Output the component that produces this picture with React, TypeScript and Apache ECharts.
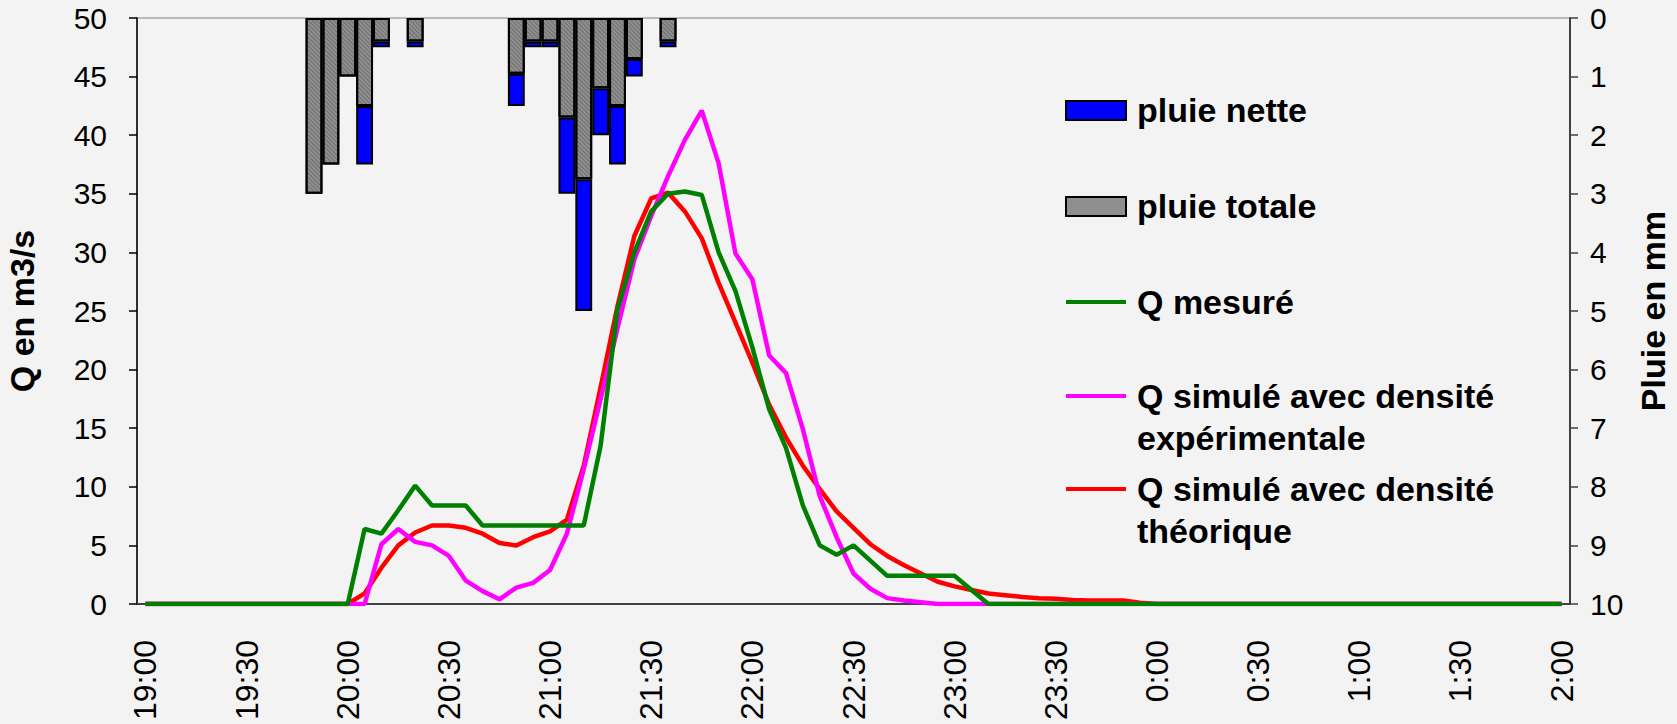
import { useEffect, useRef } from 'react';
import * as echarts from 'echarts';

// 5-minute time steps from 19:00 to 2:00 (next day)
const timeSteps: string[] = [];
for (let m = 19 * 60; m <= 26 * 60; m += 5) {
  const h = Math.floor(m / 60) % 24;
  const mm = m % 60;
  timeSteps.push(`${h}:${mm.toString().padStart(2, '0')}`);
}

// Measured discharge (m3/s), one value per 5 minutes
const qMesure = [
  0, 0, 0, 0, 0, 0, 0, 0, 0, 0, 0, 0, 0,
  6.4, 6.0, 8.0, 10.1, 8.4, 8.4, 8.4, 6.7, 6.7, 6.7, 6.7, 6.7, 6.7, 6.7,
  13.5, 25.1, 30.0, 33.5, 35.0, 35.2, 34.9, 30.0, 26.7, 21.9, 16.6, 13.3,
  8.4, 5.0, 4.2, 5.0, 3.7, 2.4, 2.4, 2.4, 2.4, 2.4, 1.2,
  0, 0, 0, 0, 0, 0, 0, 0, 0, 0, 0, 0, 0, 0, 0, 0, 0, 0, 0, 0,
  0, 0, 0, 0, 0, 0, 0, 0, 0, 0, 0, 0, 0, 0, 0,
];

// Simulated discharge, experimental density
const qSimExp = [
  0, 0, 0, 0, 0, 0, 0, 0, 0, 0, 0, 0, 0, 0,
  5.1, 6.4, 5.3, 5.0, 4.1, 2.0, 1.1, 0.4, 1.4, 1.8, 2.9, 6.0,
  11.5, 17.5, 23.5, 29.4, 33.1, 36.5, 39.6, 42.1, 37.6, 29.9, 27.7, 21.2,
  19.7, 14.9, 9.2, 5.7, 2.6, 1.3, 0.5, 0.3, 0.15,
  0, 0, 0, 0, 0, 0, 0, 0, 0, 0, 0, 0, 0, 0, 0, 0, 0, 0, 0,
  0, 0, 0, 0, 0, 0, 0, 0, 0, 0, 0, 0, 0, 0, 0, 0, 0, 0, 0,
];

// Simulated discharge, theoretical density
const qSimTheo = [
  0, 0, 0, 0, 0, 0, 0, 0, 0, 0, 0, 0, 0,
  0.9, 3.1, 5.0, 6.1, 6.7, 6.7, 6.5, 6.0, 5.2, 5.0, 5.7, 6.2, 7.2,
  11.8, 18.5, 25.4, 31.4, 34.6, 35.1, 33.5, 31.2, 27.4, 24.0, 20.6, 17.0,
  14.2, 11.8, 9.8, 7.9, 6.5, 5.1, 4.1, 3.3, 2.6, 1.9, 1.5, 1.2,
  0.9, 0.75, 0.6, 0.5, 0.45, 0.35, 0.3, 0.3, 0.3, 0.1,
  0, 0, 0, 0, 0, 0, 0, 0, 0, 0, 0, 0, 0, 0, 0, 0, 0, 0, 0, 0, 0, 0, 0, 0, 0,
];

// Rainfall (mm) per 5-minute step
const pluieHeures = [
  '19:50', '19:55', '20:00', '20:05', '20:10', '20:20', '20:50', '20:55',
  '21:00', '21:05', '21:10', '21:15', '21:20', '21:25', '21:35',
];
const pluieTotale = [3.0, 2.5, 1.0, 1.5, 0.4, 0.4, 0.95, 0.4, 0.4, 1.7, 2.75, 1.2, 1.5, 0.7, 0.4];
const pluieNette = [0, 0, 0, 1.0, 0.1, 0.1, 0.55, 0.1, 0.1, 1.3, 2.25, 0.8, 1.0, 0.3, 0.1];

const FONT = 'Arial, "Liberation Sans", Helvetica, sans-serif';
const GRAY = '#8f8f8f';

function alignRain(times: string[], values: number[]) {
  return timeSteps.map((t) => {
    const k = times.indexOf(t);
    if (k < 0) return null;
    return values[k] > 0 ? values[k] : null;
  });
}

// fine diagonal hatching used for the total-rain bars
const hatch = {
  symbol: 'rect',
  symbolSize: 1,
  color: 'rgba(70,70,70,0.45)',
  dashArrayX: [1, 0],
  dashArrayY: [1, 2],
  rotation: Math.PI / 4,
};

export default function App() {
  const ref = useRef<HTMLDivElement>(null);

  useEffect(() => {
    if (!ref.current) return;
    const chart = echarts.init(ref.current, null, { renderer: 'svg' });

    const axisText = { fontSize: 30, color: '#000', fontFamily: FONT };
    const nameText = { fontSize: 34, fontWeight: 'bold', color: '#000', fontFamily: FONT };

    const legendFont = { fontSize: 34, fontWeight: 'bold', fontFamily: FONT, fill: '#000' };
    const iconX = 1066;
    const iconW = 60;
    const textX = 1137;

    chart.setOption({
      animation: false,
      backgroundColor: '#f3f3f3',
      grid: {
        left: 137,
        right: 107,
        top: 18,
        bottom: 120,
        outerBoundsMode: 'none',
        containLabel: false,
        show: true,
        borderColor: '#808080',
        borderWidth: 1,
        backgroundColor: 'transparent',
      },
      xAxis: {
        type: 'category',
        data: timeSteps,
        boundaryGap: true,
        axisLine: { lineStyle: { color: '#404040', width: 2 } },
        axisTick: { interval: 5, length: 8, lineStyle: { color: '#404040', width: 2 } },
        axisLabel: { interval: 5, rotate: 90, margin: 36, ...axisText, fontSize: 32 },
        splitLine: { show: false },
      },
      yAxis: [
        {
          type: 'value',
          min: 0,
          max: 50,
          interval: 5,
          name: 'Q en m3/s',
          nameLocation: 'middle',
          nameGap: 98,
          nameRotate: 90,
          nameTextStyle: nameText,
          axisLine: { show: true, lineStyle: { color: '#000', width: 1.5 } },
          axisTick: { show: true, length: 8, lineStyle: { color: '#000', width: 1.5 } },
          axisLabel: { margin: 30, ...axisText },
          splitLine: { show: false },
        },
        {
          type: 'value',
          min: 0,
          max: 10,
          interval: 1,
          inverse: true,
          position: 'right',
          name: 'Pluie en mm',
          nameLocation: 'middle',
          nameGap: 66,
          nameRotate: 90,
          nameTextStyle: nameText,
          axisLine: { show: true, lineStyle: { color: '#404040', width: 2 } },
          axisTick: { show: true, length: 8, lineStyle: { color: '#404040', width: 1.5 } },
          axisLabel: { margin: 20, ...axisText },
          splitLine: { show: false },
        },
      ],
      series: [
        {
          name: 'pluie totale',
          type: 'bar',
          yAxisIndex: 1,
          stack: 'pluie',
          barCategoryGap: 0,
          data: alignRain(pluieHeures, pluieTotale),
          itemStyle: { color: GRAY, borderColor: '#000', borderWidth: 2, decal: hatch },
        },
        {
          name: 'pluie nette',
          type: 'bar',
          yAxisIndex: 1,
          stack: 'pluie',
          barCategoryGap: 0,
          data: alignRain(pluieHeures, pluieNette),
          itemStyle: { color: '#0000ff', borderColor: '#000', borderWidth: 2 },
        },
        {
          name: 'Q simulé avec densité théorique',
          type: 'line',
          data: qSimTheo,
          showSymbol: false,
          lineStyle: { color: '#ff0000', width: 4.5 },
        },
        {
          name: 'Q simulé avec densité expérimentale',
          type: 'line',
          data: qSimExp,
          showSymbol: false,
          lineStyle: { color: '#ff00ff', width: 4.5 },
        },
        {
          name: 'Q mesuré',
          type: 'line',
          data: qMesure,
          showSymbol: false,
          lineStyle: { color: '#008000', width: 4.5 },
        },
      ],
      graphic: [
        {
          type: 'rect',
          shape: { x: iconX, y: 101, width: iconW, height: 19 },
          style: { fill: '#0000ff', stroke: '#000', lineWidth: 2 },
        },
        {
          type: 'text',
          x: textX,
          y: 110,
          style: { text: 'pluie nette', verticalAlign: 'middle', ...legendFont },
        },
        {
          type: 'rect',
          shape: { x: iconX, y: 197, width: iconW, height: 19 },
          style: { fill: GRAY, stroke: '#000', lineWidth: 2 },
        },
        {
          type: 'text',
          x: textX,
          y: 206,
          style: { text: 'pluie totale', verticalAlign: 'middle', ...legendFont },
        },
        {
          type: 'line',
          shape: { x1: iconX, y1: 302, x2: iconX + iconW, y2: 302 },
          style: { stroke: '#008000', lineWidth: 4 },
        },
        {
          type: 'text',
          x: textX,
          y: 302,
          style: { text: 'Q mesuré', verticalAlign: 'middle', ...legendFont },
        },
        {
          type: 'line',
          shape: { x1: iconX, y1: 396, x2: iconX + iconW, y2: 396 },
          style: { stroke: '#ff00ff', lineWidth: 4 },
        },
        {
          type: 'text',
          x: textX,
          y: 375,
          style: {
            text: 'Q simulé avec densité\nexpérimentale',
            verticalAlign: 'top',
            lineHeight: 42,
            ...legendFont,
          },
        },
        {
          type: 'line',
          shape: { x1: iconX, y1: 489, x2: iconX + iconW, y2: 489 },
          style: { stroke: '#ff0000', lineWidth: 4 },
        },
        {
          type: 'text',
          x: textX,
          y: 468,
          style: {
            text: 'Q simulé avec densité\nthéorique',
            verticalAlign: 'top',
            lineHeight: 42,
            ...legendFont,
          },
        },
      ],
    });

    return () => chart.dispose();
  }, []);

  return (
    <div
      ref={ref}
      style={{ position: 'fixed', left: 0, top: 0, width: 1677, height: 724 }}
    />
  );
}
